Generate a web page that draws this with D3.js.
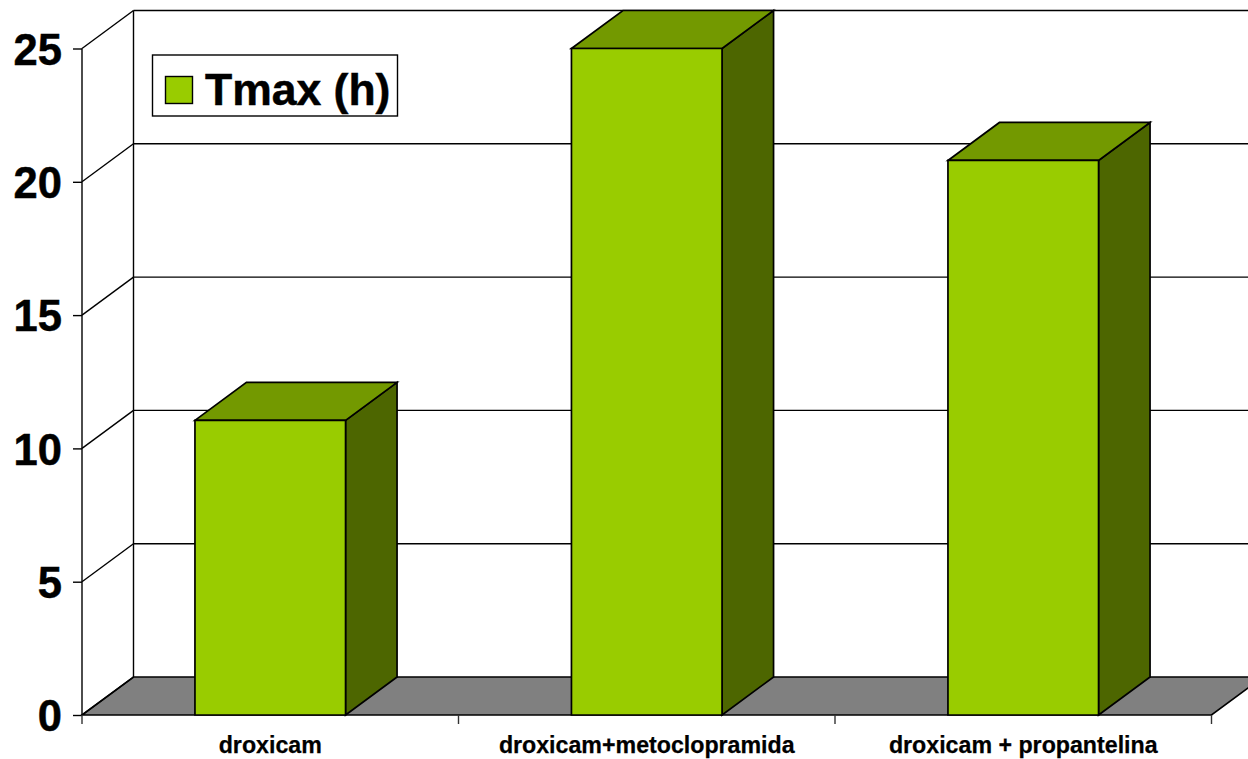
<!DOCTYPE html>
<html>
<head>
<meta charset="utf-8">
<script src="https://cdn.jsdelivr.net/npm/d3@7"></script>
<style>
html, body { margin: 0; padding: 0; background: #fff; overflow: hidden; }
text { font-family: "Liberation Sans", Arial, sans-serif; font-weight: bold; fill: #000; stroke: #000; stroke-width: 0.5px; }
</style>
</head>
<body>
<script>
const categories = ["droxicam", "droxicam+metoclopramida", "droxicam + propantelina"];
const tmaxValues = [11.05, 25, 20.8];
const yTicks = [0, 5, 10, 15, 20, 25];
const seriesName = "Tmax (h)";

const W = 1248, H = 759;
const plotLeft = 82, plotRight = 1211.5, plotBottom = 715, plotTop = 48.5;
const depthX = 51.5, depthY = -38;

const colors = { front: "#99cc00", top: "#739900", side: "#4d6600", floor: "#808080", line: "#000" };

const svg = d3.select("body").append("svg").attr("width", W).attr("height", H).style("display", "block");
const y = d3.scaleLinear().domain([0, 25]).range([plotBottom, plotTop]);
const x = d3.scaleBand().domain(categories).range([plotLeft, plotRight]).paddingInner(0.6).paddingOuter(0.3);
const line = d3.line();

const poly = (g, pts, fill) => g.append("path")
  .attr("d", line(pts) + "Z")
  .attr("fill", fill)
  .attr("stroke", colors.line)
  .attr("stroke-width", 1.7)
  .attr("stroke-linejoin", "miter");

// Floor of the 3D box
poly(svg.append("g"), [
  [plotLeft, plotBottom], [plotLeft + depthX, plotBottom + depthY],
  [plotRight + depthX, plotBottom + depthY], [plotRight, plotBottom]
], colors.floor);

const walls = svg.append("g").attr("fill", "none").attr("stroke", colors.line).attr("stroke-width", 1.4);

// Gridlines along the back wall, with their diagonals on the side wall
yTicks.forEach(t => {
  if (t > 0) {
    walls.append("path").attr("d", line([[plotLeft + depthX, y(t) + depthY], [W, y(t) + depthY]]));
  }
  walls.append("path").attr("d", line([[plotLeft, y(t)], [plotLeft + depthX, y(t) + depthY]]));
});
walls.append("path").attr("d", line([[plotLeft, y(0)], [plotLeft, y(25)]]));
walls.append("path").attr("d", line([[plotLeft + depthX, y(0) + depthY], [plotLeft + depthX, y(25) + depthY]]));

// Value axis: ticks and labels only, the spine is already drawn above
const yAxis = svg.append("g")
  .attr("transform", `translate(${plotLeft},0)`)
  .call(d3.axisLeft(y).tickValues(yTicks).tickSize(9).tickPadding(11).tickFormat(d3.format("d")));
yAxis.select(".domain").remove();
yAxis.selectAll("line").attr("stroke", colors.line).attr("stroke-width", 1.4);
yAxis.selectAll("text").attr("font-size", 43.5).attr("dy", "0.36em").attr("x", -20);

// Category axis: labels under each band, ticks at band boundaries
const xAxis = svg.append("g")
  .attr("transform", `translate(0,${plotBottom})`)
  .call(d3.axisBottom(x).tickSize(0).tickPadding(22));
xAxis.select(".domain").remove();
xAxis.selectAll("text").attr("font-size", 23.2).attr("dy", "0.71em").style("stroke-width", "0.25px");
const step = x.step();
const bandStart = x(categories[0]) - x.paddingOuter() * step;
const xEdges = d3.range(categories.length + 1).map(i => bandStart + i * step);
svg.append("g").selectAll("line").data(xEdges).join("line")
  .attr("x1", d => d).attr("x2", d => d)
  .attr("y1", plotBottom).attr("y2", plotBottom + 9)
  .attr("stroke", "#333").attr("stroke-width", 1.4);

// 3D columns: side and top faces first, front face over them
const bars = svg.append("g").selectAll("g").data(tmaxValues).join("g");
bars.each(function(v, i) {
  const g = d3.select(this);
  const x0 = x(categories[i]), x1 = x0 + x.bandwidth(), y0 = y(v), y1 = y(0);
  poly(g, [[x1, y0], [x1 + depthX, y0 + depthY], [x1 + depthX, y1 + depthY], [x1, y1]], colors.side);
  poly(g, [[x0, y0], [x0 + depthX, y0 + depthY], [x1 + depthX, y0 + depthY], [x1, y0]], colors.top);
  poly(g, [[x0, y0], [x1, y0], [x1, y1], [x0, y1]], colors.front);
});

// Legend
const legend = svg.append("g");
legend.append("rect").attr("x", 152.5).attr("y", 55).attr("width", 245).attr("height", 61)
  .attr("fill", "#fff").attr("stroke", colors.line).attr("stroke-width", 1.4);
legend.append("rect").attr("x", 165.5).attr("y", 76.5).attr("width", 27).attr("height", 27)
  .attr("fill", colors.front).attr("stroke", colors.line).attr("stroke-width", 1.4);
legend.append("text").attr("x", 205).attr("y", 105).attr("font-size", 44.5).text(seriesName);
</script>
</body>
</html>
